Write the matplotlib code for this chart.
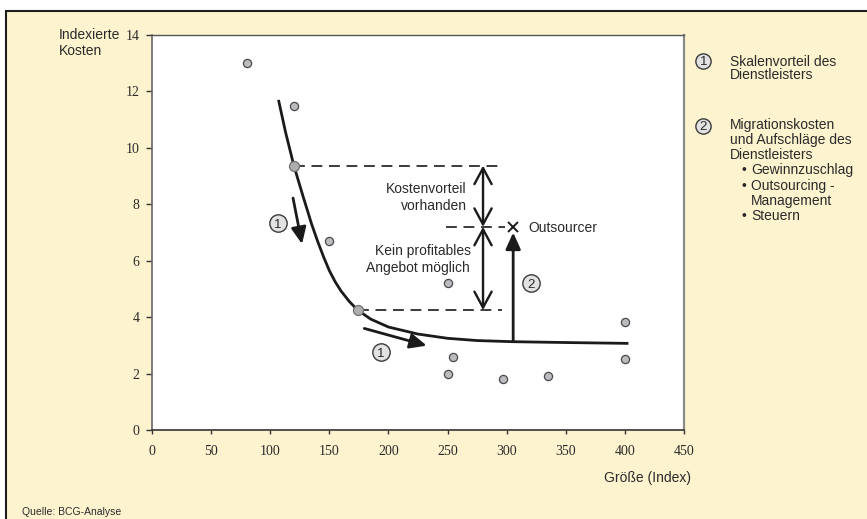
import matplotlib
matplotlib.use('Agg')
import matplotlib.pyplot as plt
from matplotlib.patches import Rectangle
from matplotlib.lines import Line2D

W, H = 867, 519

# ---- data ----
size_index = [80, 120, 150, 250, 255, 250, 297, 335, 400, 400]
cost_index = [13.0, 11.5, 6.7, 5.2, 2.6, 2.0, 1.8, 1.9, 3.83, 2.53]

curve_x = [107, 113, 120, 128, 135, 140, 145, 150, 155, 160, 167, 174, 185, 200, 225, 250, 275, 305, 350, 403]
curve_y = [11.7, 10.55, 9.37, 8.25, 7.3, 6.7, 6.15, 5.65, 5.25, 4.92, 4.55, 4.25, 3.93, 3.65, 3.4, 3.25, 3.17, 3.13, 3.1, 3.07]

marked_x = [120, 174]
marked_y = [9.37, 4.25]

outsourcer_x, outsourcer_y = 305.5, 7.2
curve_at_outsourcer = 3.13

x_ticks = [0, 50, 100, 150, 200, 250, 300, 350, 400, 450]
y_ticks = [0, 2, 4, 6, 8, 10, 12, 14]

SANS = ['Liberation Sans', 'DejaVu Sans']
SERIF = ['Liberation Serif', 'DejaVu Serif']
TXT = '#2a2a2a'
CREAM = '#fdf3cf'

fig = plt.figure(figsize=(W / 100, H / 100), dpi=100, facecolor='white')


def P(x, y):
    return (x / W, 1 - y / H)


# outer cream panel with border (top & left visible)
bg = Rectangle(P(5.5, 10.5), 2.0, -2.0, transform=fig.transFigure,
               facecolor=CREAM, edgecolor='#1e1e1e', lw=1.5, zorder=-10)
fig.patches.append(bg)

ax = fig.add_axes([152 / W, 1 - 430 / H, (684 - 152) / W, (430 - 35) / H])
ax.set_facecolor('white')
ax.set_xlim(0, 450)
ax.set_ylim(0, 14)
ax.set_xticks(x_ticks)
ax.set_yticks(y_ticks)
ax.set_xticklabels([str(v) for v in x_ticks], family=SERIF, fontsize=10, color=TXT)
ax.set_yticklabels([str(v) for v in y_ticks], family=SERIF, fontsize=10, color=TXT)
ax.tick_params(axis='x', direction='out', length=3, width=1, color='#333333', pad=8)
ax.tick_params(axis='y', direction='out', length=4, width=1, color='#333333', pad=5)
ax.spines['left'].set_color('#666666'); ax.spines['left'].set_linewidth(1.2)
ax.spines['bottom'].set_color('#333333'); ax.spines['bottom'].set_linewidth(1.2)
ax.spines['top'].set_color('#555555'); ax.spines['top'].set_linewidth(1.0)
ax.spines['right'].set_color('#8a8a8a'); ax.spines['right'].set_linewidth(1.6)

# dashed reference levels
dash_kw = dict(color='#1a1a1a', lw=1.2, dashes=(6.5, 4), zorder=2)
ax.plot([marked_x[0], 294.5], [marked_y[0]] * 2, **dash_kw)
ax.plot([249, 299], [outsourcer_y] * 2, **dash_kw)
ax.plot([marked_x[1], 296], [marked_y[1]] * 2, **dash_kw)

# cost curve
ax.plot(curve_x, curve_y, color='#1a1a1a', lw=2.0, solid_capstyle='butt',
        solid_joinstyle='round', zorder=3)

# scatter of companies
ax.plot(size_index, cost_index, 'o', ms=5.9, mfc='#b9bbbe', mec='#4a4a4a', mew=0.9, zorder=4)
# marked points on the curve
ax.plot(marked_x, marked_y, 'o', ms=7.2, mfc='#aeaeae', mec='#707070', mew=0.9, zorder=5)

# outsourcer
ax.plot([outsourcer_x], [outsourcer_y], marker='x', ms=7, mew=1.4, color='#1a1a1a', zorder=5)

# double arrows
dbl = dict(arrowstyle='<->,head_length=1.15,head_width=0.62', lw=1.7, color='#1a1a1a',
           shrinkA=0, shrinkB=0, mutation_scale=10)
ax.annotate('', xy=(280, marked_y[0]), xytext=(280, outsourcer_y), arrowprops=dbl, zorder=4)
ax.annotate('', xy=(280, outsourcer_y), xytext=(280, marked_y[1]), arrowprops=dbl, zorder=4)

# filled arrows
fil = dict(arrowstyle='-|>,head_length=1.0,head_width=0.45', lw=2.0, color='#1a1a1a',
           shrinkA=0, shrinkB=0, mutation_scale=10)
ax.annotate('', xy=(outsourcer_x, 7.0), xytext=(outsourcer_x, curve_at_outsourcer), arrowprops=fil, zorder=4)
ax.annotate('', xy=(126.9, 6.59), xytext=(119.3, 8.22), arrowprops=fil, zorder=4)
ax.annotate('', xy=(232.4, 2.99), xytext=(179.6, 3.6), arrowprops=fil, zorder=4)


def circled(axis_or_fig, x, y, s, transform, ms=12.5, fs=9.5):
    axis_or_fig.add_artist(Line2D([x], [y], marker='o', ms=ms, mfc='#e2e2e2', mec='#3a3a3a',
                                  mew=1.0, transform=transform, zorder=6, clip_on=False))
    axis_or_fig.text(x, y, s, transform=transform, ha='center', va='center_baseline',
                     family=SANS, fontsize=fs, color=TXT, zorder=7)


circled(ax, 106.6, 7.33, '1', ax.transData)
circled(ax, 193.7, 2.75, '1', ax.transData)
circled(ax, 320.6, 5.2, '2', ax.transData)

# annotation texts inside the plot
tk = dict(family=SANS, fontsize=10, color=TXT, va='baseline')
ax.text(266.0, 8.39, 'Kostenvorteil', ha='right', **tk)
ax.text(266.1, 7.80, 'vorhanden', ha='right', **tk)
ax.text(269.8, 6.20, 'Kein profitables', ha='right', **tk)
ax.text(269.0, 5.59, 'Angebot möglich', ha='right', **tk)
ax.text(318.2, 7.01, 'Outsourcer', ha='left', **tk)

# axis titles
ft = dict(family=SANS, fontsize=10, color=TXT, va='baseline', transform=fig.transFigure)
fig.text(*P(58.7, 39.3), 'Indexierte', ha='left', **ft)
fig.text(*P(58.7, 55.0), 'Kosten', ha='left', **ft)
fig.text(*P(691, 481.7), 'Größe (Index)', ha='right', **ft)
fig.text(*P(21.7, 515.0), 'Quelle: BCG-Analyse', ha='left', family=SANS, fontsize=7.5,
         color=TXT, va='baseline', transform=fig.transFigure)

# legend on the right
circled(fig, *P(703.3, 60.7), '1', fig.transFigure, ms=11, fs=9.5)
circled(fig, *P(703.3, 126.0), '2', fig.transFigure, ms=11, fs=9.5)
fig.text(*P(730, 65.7), 'Skalenvorteil des', ha='left', **ft)
fig.text(*P(730, 79.3), 'Dienstleisters', ha='left', **ft)
fig.text(*P(730, 129.3), 'Migrationskosten', ha='left', **ft)
fig.text(*P(730, 144.3), 'und Aufschläge des', ha='left', **ft)
fig.text(*P(730, 159.3), 'Dienstleisters', ha='left', **ft)
for yb, label in [(174.3, 'Gewinnzuschlag'), (190.0, 'Outsourcing -'), (220.0, 'Steuern')]:
    fig.text(*P(741.5, yb), '•', ha='left', **ft)
    fig.text(*P(751, yb), label, ha='left', **ft)
fig.text(*P(751, 205.0), 'Management', ha='left', **ft)

fig.savefig('out.png', dpi=100, facecolor='white')
